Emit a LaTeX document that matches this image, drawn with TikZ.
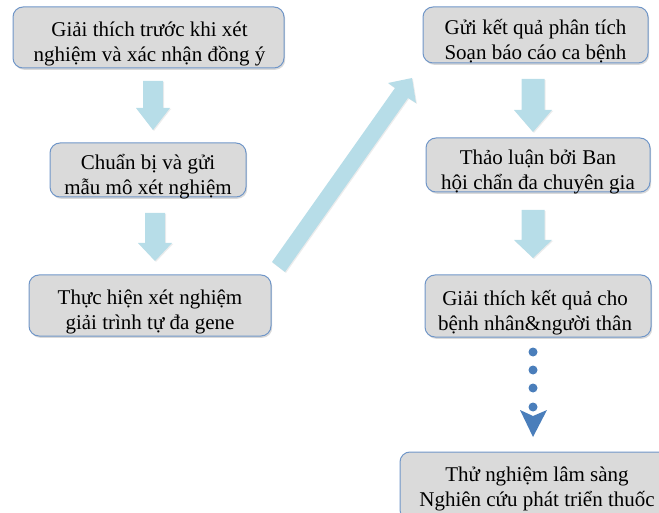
\documentclass[tikz,border=0pt]{standalone}
\usepackage{fontspec}
\setmainfont{Liberation Serif}
\usetikzlibrary{shadows}
\definecolor{boxfill}{RGB}{218,218,218}
\definecolor{boxline}{RGB}{112,150,200}
\definecolor{arrowblue}{RGB}{183,221,232}
\definecolor{dotblue}{RGB}{74,126,187}
\newcommand{\BlockDown}[6]{%
  \fill[blockarrow] (#1-#5/2,#2) -- (#1+#5/2,#2) -- (#1+#5/2,#3) -- (#1+#6/2,#3)
    -- (#1,#4) -- (#1-#6/2,#3) -- (#1-#5/2,#3) -- cycle;}
\tikzset{
  stepbox/.style={rectangle, rounded corners=10pt, draw=boxline, line width=1pt,
    fill=boxfill, drop shadow={shadow xshift=1.2pt, shadow yshift=-1.8pt, opacity=0.3},
    inner sep=0pt},
  steptext/.style={align=center, inner sep=0pt, font=\fontsize{21}{25}\selectfont, text=black},
  blockarrow/.style={fill=arrowblue, drop shadow={shadow xshift=1pt, shadow yshift=-1pt, opacity=0.15}},
  dotmark/.style={fill=dotblue}
}
\begin{document}
\begin{tikzpicture}[x=1pt,y=-1pt]
\useasboundingbox (0,0) rectangle (659,513);
\node[stepbox, minimum width=271pt, minimum height=61pt] (b1) at (148.5,37.5) {};
\node[steptext] (t1) at ([yshift=-6.5pt,xshift=1pt]b1.center)
  {Giải thích trước khi xét\\nghiệm và xác nhận đồng ý};
\node[stepbox, minimum width=196pt, minimum height=54pt] (b2) at (148,170) {};
\node[steptext] (t2) at ([yshift=-6.5pt]b2.center)
  {Chuẩn bị và gửi\\mẫu mô xét nghiệm};
\node[stepbox, minimum width=242pt, minimum height=61pt] (b3) at (150,305.5) {};
\node[steptext] (t3) at ([yshift=-6.5pt]b3.center)
  {Thực hiện xét nghiệm\\giải trình tự đa gene};
\node[stepbox, minimum width=225pt, minimum height=56pt] (b4) at (535.5,35) {};
\node[steptext] (t4) at ([yshift=-6.5pt]b4.center)
  {Gửi kết quả phân tích\\Soạn báo cáo ca bệnh};
\node[stepbox, minimum width=224pt, minimum height=54pt] (b5) at (538,165) {};
\node[steptext] (t5) at ([yshift=-6.5pt]b5.center)
  {Thảo luận bởi Ban\\hội chẩn đa chuyên gia};
\node[stepbox, minimum width=226pt, minimum height=62pt] (b6) at (538,306) {};
\node[steptext] (t6) at ([yshift=-6.5pt,xshift=-3pt]b6.center)
  {Giải thích kết quả cho\\bệnh nhân\&người thân};
\node[stepbox, minimum width=278pt, minimum height=68pt] (b7) at (539,486) {};
\node[steptext] (t7) at ([yshift=-3pt,xshift=-2pt]b7.center)
  {Thử nghiệm lâm sàng\\Nghiên cứu phát triển thuốc};
% block arrows
\BlockDown{153}{81}{108}{130}{20}{34}
\BlockDown{155}{213}{243}{261}{20}{34}
\BlockDown{533}{79}{110}{132}{23}{38}
\BlockDown{533}{210}{240}{258}{23}{38}
% diagonal arrow
\fill[blockarrow] (272,262) -- (395,88) -- (388,83) -- (412,78) -- (416,103)
  -- (408,98) -- (285,272) -- cycle;
% dots and chevron
\foreach \yy in {352,370,388,407} \fill[dotmark] (533,\yy) circle (4.5);
\fill[dotmark] (520,410) -- (533,416) -- (547,410) -- (533,437) -- cycle;
\end{tikzpicture}
\end{document}
